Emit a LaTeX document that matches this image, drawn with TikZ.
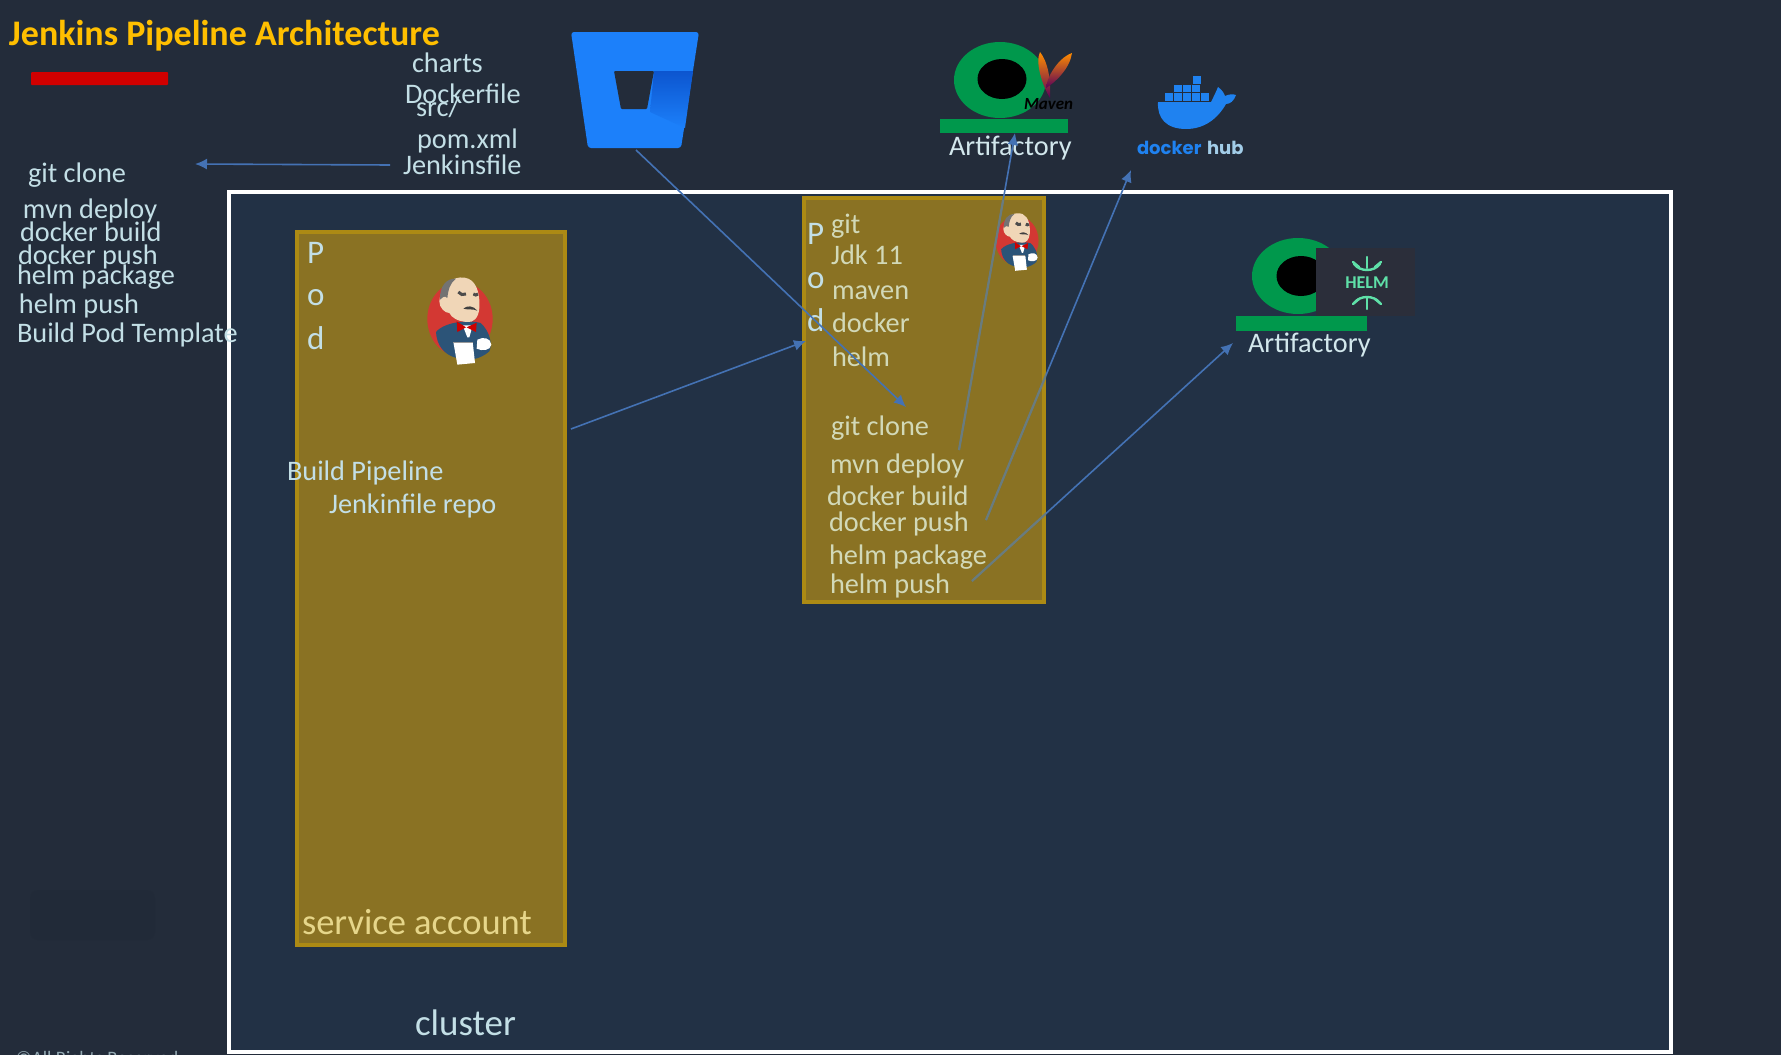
\documentclass[tikz,border=0pt]{standalone}
\usepackage{fontspec}
\setmainfont{Carlito}
\newfontfamily\dockerfont{Poppins}
\usetikzlibrary{arrows.meta}
\definecolor{bgout}{HTML}{232C3A}
\definecolor{bgin}{HTML}{223145}
\definecolor{podfill}{HTML}{8A7223}
\definecolor{podline}{HTML}{AC8A14}
\definecolor{txt}{HTML}{C3DFE6}
\definecolor{podtxt}{HTML}{D2D9B8}
\definecolor{arrowblue}{HTML}{4472B4}
\definecolor{arrowpod}{HTML}{6A7C7E}
\definecolor{green1}{HTML}{00984C}
\definecolor{jskin}{HTML}{F0D6B7}
\definecolor{jblue}{HTML}{2C5478}
\definecolor{jred}{HTML}{D33833}
\definecolor{dockblue}{HTML}{1F82F0}
\definecolor{helmgreen}{HTML}{5FE0A8}
\definecolor{bucket}{HTML}{1C80FA}
\definecolor{bucketdark}{HTML}{0C55CF}
\definecolor{helmbox}{HTML}{2B2E3A}
\tikzset{
  x=1pt,y=-1pt,
  lbl/.style={anchor=base west,inner sep=0pt,outer sep=0pt,yshift=-1pt,text=txt,font=\fontsize{28.3}{28.3}\selectfont},
  podlbl/.style={lbl,text=podtxt},
  podletter/.style={lbl,text=txt,font=\fontsize{33}{33}\selectfont},
  conn/.style={arrowblue,line width=1.6pt,-{Latex[length=12pt,width=11pt]}},
  connpod/.style={arrowpod,line width=2.2pt},
  gbar/.style={fill=green1},
  feather/.style={top color=orange!90!yellow,middle color=red!80!black,bottom color=violet!70!black},
  helmline/.style={helmgreen,line width=2.4pt,line cap=round},
}
\newcommand{\jenkinsmark}[3]{%
\begin{scope}[shift={(#1,#2)},x=#3pt,y=-#3pt]
  \fill[jred] (0,3) ellipse [x radius=98,y radius=112];
  \fill[jblue] (-72,42) .. controls (-45,10) and (30,5) .. (62,15) .. controls (90,40) and (98,80) .. (88,100) .. controls (60,125) and (20,132) .. (-10,120) .. controls (-50,110) and (-70,80) .. (-72,42) -- cycle;
  \fill[jskin] (-62,-50) .. controls (-55,-115) and (-5,-130) .. (25,-118) .. controls (55,-105) and (60,-60) .. (58,-30) .. controls (56,0) and (40,15) .. (20,12) .. controls (-5,10) and (-25,0) .. (-32,-15) .. controls (-45,-15) and (-62,-30) .. (-62,-50) -- cycle;
  \fill[black!55] (-60,-55) .. controls (-62,-95) and (-40,-120) .. (-12,-118) .. controls (-30,-105) and (-35,-85) .. (-38,-60) .. controls (-48,-70) and (-52,-60) .. (-60,-55) -- cycle;
  \draw[black!70,line width=3pt] (-5,-78) .. controls (0,-70) and (10,-68) .. (18,-72);
  \draw[black!70,line width=3pt] (40,-72) .. controls (45,-68) and (50,-68) .. (54,-72);
  \fill[black!75] (10,-28) .. controls (20,-38) and (40,-38) .. (52,-22) .. controls (40,-28) and (22,-24) .. (10,-28) -- cycle;
  \fill[white] (8,22) -- (38,22) -- (28,58) -- (22,58) -- cycle;
  \fill[red!80!black] (-10,10) -- (18,28) -- (-8,42) -- cycle;
  \fill[red!80!black] (50,14) -- (20,28) -- (48,42) -- cycle;
  \fill[white] (-20,72) -- (38,72) -- (45,135) -- (-8,140) -- cycle;
  \draw[black!40,line width=1pt] (-20,72) -- (38,72);
  \fill[white] (52,65) .. controls (70,55) and (92,60) .. (94,80) .. controls (92,98) and (65,100) .. (50,92) -- cycle;
\end{scope}}
\begin{document}
\begin{tikzpicture}
\useasboundingbox (0,0) rectangle (1781,1055);
\fill[bgout] (0,0) rectangle (1781,1055);
% faint smudge
\fill[black!20!bgout,opacity=.15,rounded corners=8pt] (30,890) rectangle (155,940);
% cluster
\draw[white,line width=3.6pt,fill=bgin] (229,192) rectangle (1671,1052);
\node[lbl,text=txt!70!bgout,font=\fontsize{19}{19}\selectfont] (copy) at (16,1063) {©All Rights Reserved};
% title
\node[lbl,text=orange!50!yellow,font=\fontsize{36}{36}\selectfont\bfseries] (title) at (9,44) {Jenkins Pipeline Architecture};
\fill[red!82!black,rounded corners=1pt] (31,72) rectangle (168,85);
% bucket texts
\node[lbl] (charts) at (412,71) {charts};
\node[lbl] (dockerfile) at (405,102) {Dockerfile};
\node[lbl] (src) at (416,115) {src/};
\node[lbl] (pom) at (417,147) {pom.xml};
\node[lbl] (jenkinsfile) at (403,173) {Jenkinsfile};
% left list
\node[lbl] (lclone) at (28,181) {git clone};
\node[lbl] (ldeploy) at (23,217) {mvn deploy};
\node[lbl] (lbuild) at (20,240) {docker build};
\node[lbl] (lpush) at (18,263) {docker push};
\node[lbl] (lpack) at (17,283) {helm package};
\node[lbl] (lhpush) at (19,312) {helm push};
\node[lbl] (ltempl) at (17,341) {Build Pod Template};
% pods
\draw[draw=podline,fill=podfill,line width=3.5pt] (297,232) rectangle (565,945);
\draw[draw=podline,fill=podfill,line width=3.5pt] (804,198) rectangle (1044,602);
% pod one
\node[podletter] (p1) at (307,262) {P};
\node[podletter] (o1) at (307,304) {o};
\node[podletter] (d1) at (307,348) {d};
\node[lbl] (bp) at (287,479) {Build Pipeline};
\node[lbl] (jr) at (329,512) {Jenkinfile repo};
\node[lbl,text={rgb,255:red,230;green,214;blue,138},font=\fontsize{36.5}{36.5}\selectfont] (sa) at (302,933) {service account};
\node[lbl,font=\fontsize{37}{37}\selectfont] (clusterlbl) at (415,1034) {cluster};
\jenkinsmark{460}{318}{0.3333}
% pod two
\node[podletter] (p2) at (807,243) {P};
\node[podletter] (o2) at (807,287) {o};
\node[podletter] (d2) at (807,330) {d};
\node[podlbl] (git) at (831,232) {git};
\node[podlbl] (jdk) at (831,263) {Jdk 11};
\node[podlbl] (maven) at (832,298) {maven};
\node[podlbl] (docker) at (832,331) {docker};
\node[podlbl] (helm) at (832,365) {helm};
\node[podlbl] (gitclone) at (831,434) {git clone};
\node[podlbl] (mvndeploy) at (830,472) {mvn deploy};
\node[podlbl] (dockerbuild) at (827,504) {docker build};
\node[podlbl] (dockerpush) at (829,530) {docker push};
\node[podlbl] (helmpack) at (829,563) {helm package};
\node[podlbl] (helmpush) at (830,592) {helm push};
\jenkinsmark{1017}{240}{0.22}
% bitbucket
\fill[bucket,rounded corners=3pt] (571,32) -- (699,32) -- (681,148) -- (588,148) -- cycle;
\shade[top color=bucketdark,bottom color=bucket] (654,71) -- (693,71) -- (685,128) -- (650,112) -- cycle;
\fill[bgout,rounded corners=1pt] (614,71) -- (654,71) -- (647,109) -- (621,109) -- cycle;
% artifactory 1
\fill[green1] (1000,80) ellipse [x radius=46,y radius=38];
\fill[black] (1002,79) ellipse [x radius=24.5,y radius=20];
\fill[gbar] (940,119) rectangle (1068,133);
\shade[feather] (1040,52) .. controls (1035,62) and (1042,85) .. (1050,98) .. controls (1051,80) and (1048,62) .. (1040,52) -- cycle;
\shade[feather] (1072,53) .. controls (1062,56) and (1048,72) .. (1046,88) .. controls (1056,82) and (1070,68) .. (1072,53) -- cycle;
\node[lbl,text=black,font=\fontsize{17}{17}\selectfont\bfseries\itshape] (mvnlogo) at (1024,108) {Maven};
\node[lbl,text=txt!75!white] (art1) at (949,154) {Artifactory};
% docker
\foreach \cx in {1165,1174,1183,1192,1201} \fill[dockblue] (\cx,93) rectangle +(7.5,7.5);
\foreach \cx in {1174,1183,1192} \fill[dockblue] (\cx,84.5) rectangle +(7.5,7.5);
\fill[dockblue] (1193,76) rectangle +(7.5,7.5);
\fill[dockblue] (1158,102) -- (1211,102) .. controls (1214,96) and (1216,92) .. (1218,87) .. controls (1222,90) and (1224,93) .. (1225,96) .. controls (1229,94) and (1233,94) .. (1236,95) .. controls (1234,101) and (1230,104) .. (1226,104) .. controls (1218,118) and (1205,129) .. (1186,129) .. controls (1166,129) and (1157,118) .. (1158,102) -- cycle;
\node[lbl,text=dockblue,font=\dockerfont\bfseries\fontsize{18}{18}\selectfont] (dockertxt) at (1137,153) {docker};
\node[lbl,text=txt!80!dockblue,font=\dockerfont\bfseries\fontsize{18}{18}\selectfont] (hubtxt) at (1207,153) {hub};
% artifactory 2
\fill[green1] (1298,276) ellipse [x radius=46,y radius=38];
\fill[black] (1301,276) ellipse [x radius=24.5,y radius=20];
\fill[gbar] (1236,316) rectangle (1367,331);
\fill[helmbox] (1316,248) rectangle (1415,316);
\node[anchor=center,inner sep=0pt,text=helmgreen,font=\fontsize{18}{18}\selectfont\bfseries] (helmtxt) at (1367,283) {HELM};
\draw[helmline] (1354,264) .. controls (1360,272) and (1374,272) .. (1380,264);
\draw[helmline] (1367,257) -- (1367,268);
\draw[helmline] (1353,262) -- (1359,267);
\draw[helmline] (1381,262) -- (1375,267);
\draw[helmline] (1354,303) .. controls (1360,295) and (1374,295) .. (1380,303);
\draw[helmline] (1367,298) -- (1367,309);
\draw[helmline] (1353,304) -- (1359,299);
\draw[helmline] (1381,304) -- (1375,299);
\node[lbl,text=txt!75!white] (art2) at (1248,351) {Artifactory};
% connectors
\coordinate (j) at (390,165); \coordinate (g) at (195,164);
\draw[conn] (j) -- (g);
\coordinate (bbout) at (636,150); \coordinate (bbin) at (906,407);
\draw[conn] (bbout) -- (bbin);
\coordinate (podonee) at (571,429); \coordinate (podtwoe) at (806,341);
\draw[conn] (podonee) -- (podtwoe);
\coordinate (da) at (959,450); \coordinate (dat) at (1015,133);
\draw[conn] (da) -- (dat);
\coordinate (dp) at (986,520); \coordinate (dpt) at (1131,170);
\draw[conn] (dp) -- (dpt);
\coordinate (hp) at (972,581); \coordinate (hpt) at (1233,343);
\draw[conn] (hp) -- (hpt);
\begin{scope}
\clip (805,199) rectangle (1046,601);
\draw[connpod] (da) -- (dat);
\draw[connpod] (dp) -- (dpt);
\draw[connpod] (hp) -- (hpt);
\end{scope}
\end{tikzpicture}
\end{document}
